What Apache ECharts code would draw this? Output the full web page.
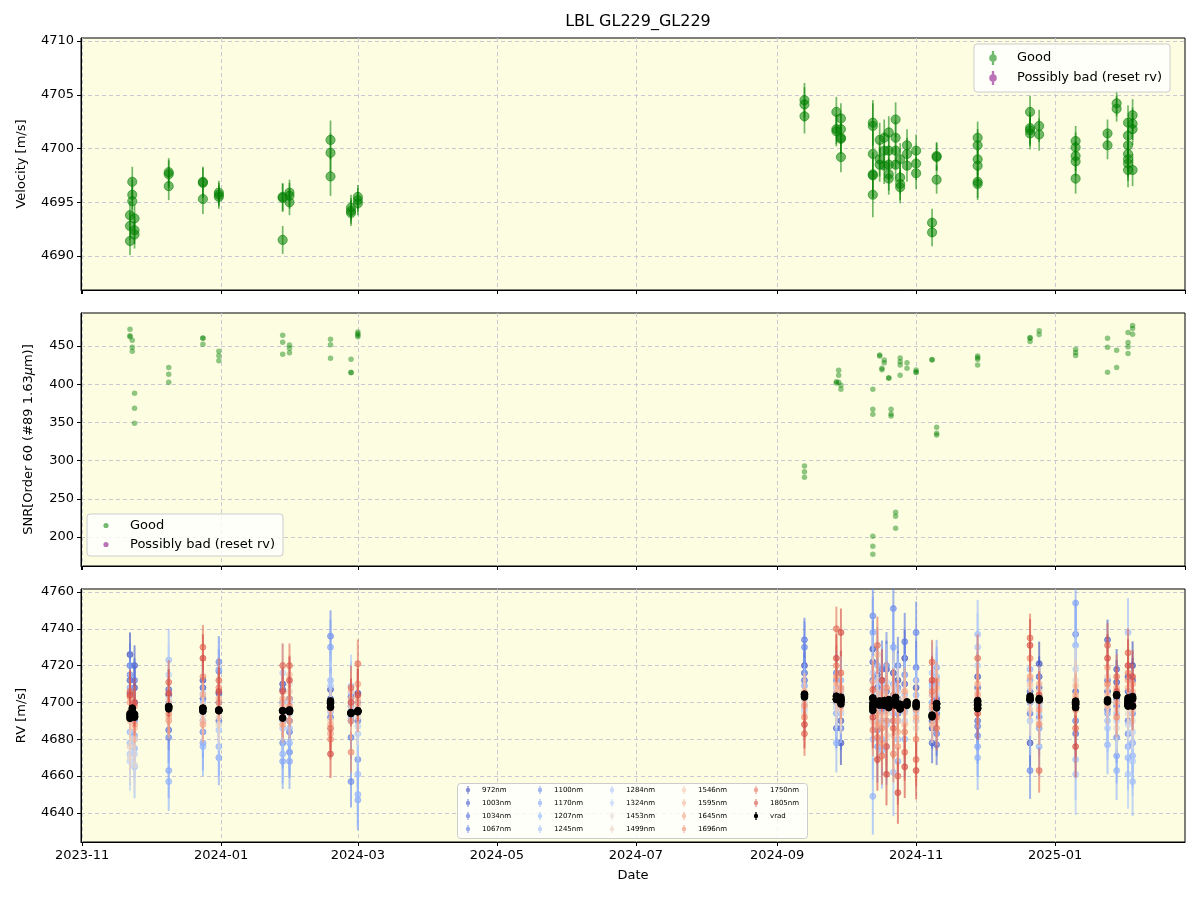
<!DOCTYPE html>
<html><head><meta charset="utf-8">
<script src="https://cdn.jsdelivr.net/npm/echarts@6/dist/echarts.min.js"></script>
<style>html,body{margin:0;padding:0;background:#fff}#c{width:1200px;height:900px}</style>
</head><body><div id="c"></div>
<script>
// ---------------- DATA ----------------
const titleText = 'LBL GL229_GL229';

// Panel 1: velocity per night (groups of exposures)
const velDates = ['2023-11-22','2023-11-23','2023-11-24','2023-12-09','2023-12-24','2023-12-31','2024-01-28','2024-01-31','2024-02-18','2024-02-27','2024-03-01',
  '2024-09-13','2024-09-27','2024-09-29','2024-10-13','2024-10-16','2024-10-18','2024-10-20','2024-10-23','2024-10-25','2024-10-28','2024-11-01','2024-11-08','2024-11-10','2024-11-28',
  '2024-12-21','2024-12-25','2025-01-10','2025-01-24','2025-01-28','2025-02-02','2025-02-04'];
const velValues = [
  [4693.8,4692.8,4691.4],[4696.9,4695.7,4695.1],[4693.5,4692.4,4692.0],[4697.8,4697.6,4696.5],[4696.9,4696.8,4695.3],[4695.9,4695.7,4695.5],
  [4695.4,4695.5,4691.5],[4695.9,4695.6,4695.0],[4700.8,4699.6,4697.4],[4694.5,4694.2,4694.0],[4695.5,4695.2,4694.9],
  [4704.5,4704.1,4703.0],[4703.4,4701.8,4701.6],[4702.8,4701.8,4701.0,4700.9,4699.2],[4702.4,4702.1,4699.5,4697.6,4697.5,4695.7],
  [4700.8,4699.0,4698.5],[4701.0,4699.8,4698.4],[4697.2,4697.6,4701.5,4699.8,4698.5],[4702.7,4701.0,4699.8,4698.5],[4699.0,4697.3,4696.7,4696.4],
  [4700.3,4699.5,4698.4],[4699.8,4698.6,4697.7],[4693.1,4692.2],[4699.3,4699.2,4697.1],[4701.0,4700.3,4699.0,4698.4,4696.9,4696.7],
  [4703.4,4701.7,4701.4,4701.9],[4702.1,4701.3],[4700.7,4700.1,4699.3,4698.8,4697.2],[4701.4,4700.3],[4704.2,4703.7],
  [4702.4,4701.2,4699.5,4698.6,4698.0,4700.3,4699.0],[4703.1,4701.8,4702.3,4698.0]];
const velErrors = [1.3,1.4,1.3,1.3,1.4,1.1,1.3,1.2,1.8,1.2,1.1,1.6,1.4,1.4,2.1,1.6,1.7,1.5,1.6,1.5,1.5,1.5,1.3,1.3,1.5,1.5,1.5,1.4,1.3,1.2,1.6,1.5];

// Panel 2: SNR
const snrDates = ['2023-11-22','2023-11-23','2023-11-24','2023-12-09','2023-12-24','2023-12-31','2024-01-28','2024-01-31','2024-02-18','2024-02-27','2024-03-01',
  '2024-09-13','2024-09-27','2024-09-28','2024-09-29','2024-10-13','2024-10-16','2024-10-17','2024-10-18','2024-10-20','2024-10-21','2024-10-23','2024-10-25',
  '2024-10-28','2024-11-01','2024-11-08','2024-11-10','2024-11-28','2024-12-21','2024-12-25','2025-01-10','2025-01-24','2025-01-28','2025-02-02','2025-02-04'];
const snrValues = [
  [471.8,463.5,462.0],[457.4,448.3,443.1],[388.1,368.4,348.8],[422.0,413.0,402.5],[460.0,460.5,452.2],[443.1,437.3,430.8],
  [464.0,454.8,439.1],[451.3,447.0,441.3],[458.8,451.7,433.9],[432.6,415.1,415.5],[468.3,466.0,462.2,464.0],
  [293.0,285.5,278.2],[403.3,401.7],[418.2,411.6,402.5],[398.6,393.3],[393.3,367.1,360.6,200.9,187.8,177.4],
  [438.2,437.0],[420.8,419.0],[431.7,428.0],[408.5,407.8],[367.1,361.0,358.5],[232.3,227.1,211.4],[429.5,425.0,411.6,434.3],
  [428.2,420.8],[418.6,416.0,415.2],[431.7,432.2],[343.6,335.7,333.5],[436.9,434.5,432.5,425.1],[460.0,456.0,461.0],
  [470.0,465.0],[445.7,441.5,437.6],[460.0,448.3,415.6],[444.3,422.0],[467.8,454.5,449.0,440.3],[473.0,477.0,465.5]];

// Panel 3: RV per wavelength
const wavelengths = [972,1003,1034,1067,1100,1170,1207,1245,1284,1324,1453,1499,1546,1595,1645,1696,1750,1805];
const rvDates = ['2023-11-22','2023-11-24','2023-12-09','2023-12-24','2023-12-31','2024-01-28','2024-01-31','2024-02-18','2024-02-27','2024-03-01',
  '2024-09-13','2024-09-27','2024-09-29','2024-10-13','2024-10-15','2024-10-17','2024-10-19','2024-10-22','2024-10-24','2024-10-27','2024-11-01',
  '2024-11-08','2024-11-10','2024-11-28','2024-12-21','2024-12-25','2025-01-10','2025-01-24','2025-01-28','2025-02-02','2025-02-04'];
const rvByDate = [
  [4726,4712,4705,4720,4715,4708,4684,4678,4672,4668,4670,4676,4690,4695,4700,4703,4706,4704],
  [4708,4720,4700,4712,4690,4682,4675,4665,4680,4672,4666,4680,4686,4692,4688,4698,4694,4700],
  [4704,4707,4685,4700,4681,4663,4657,4723,4698,4715,4702,4696,4700,4692,4690,4694,4711,4705],
  [4712,4708,4702,4695,4684,4678,4676,4690,4700,4705,4693,4698,4690,4704,4688,4714,4730,4724],
  [4705,4700,4690,4717,4722,4670,4676,4718,4685,4695,4688,4692,4697,4702,4700,4708,4712,4706],
  [4710,4707,4700,4695,4678,4668,4672,4690,4686,4716,4700,4694,4698,4702,4688,4692,4720,4706],
  [4702,4696,4690,4684,4673,4668,4678,4686,4694,4700,4710,4706,4715,4702,4690,4698,4720,4712],
  [4707,4702,4698,4692,4736,4730,4695,4712,4709,4700,4685,4690,4696,4688,4683,4680,4686,4672],
  [4703,4698,4690,4681,4657,4695,4692,4705,4709,4700,4694,4698,4706,4702,4690,4673,4708,4700],
  [4705,4700,4695,4690,4669,4647,4650,4661,4683,4687,4692,4698,4702,4700,4710,4696,4721,4704],
  [4720,4716,4712,4734,4730,4709,4705,4702,4699,4696,4694,4700,4704,4706,4698,4692,4683,4688],
  [4700,4705,4686,4716,4712,4694,4678,4708,4703,4697,4700,4702,4706,4710,4714,4720,4740,4724],
  [4678,4690,4698,4686,4704,4700,4712,4707,4702,4694,4700,4696,4706,4698,4708,4702,4716,4738],
  [4729,4722,4712,4695,4747,4738,4649,4680,4700,4716,4706,4690,4711,4702,4698,4685,4707,4692],
  [4715,4708,4690,4700,4685,4676,4720,4705,4712,4698,4690,4702,4726,4694,4688,4681,4731,4669],
  [4690,4712,4700,4718,4695,4680,4674,4710,4706,4700,4688,4692,4698,4705,4678,4686,4671,4712],
  [4718,4696,4706,4690,4720,4700,4676,4688,4697,4711,4703,4682,4694,4690,4702,4708,4676,4661],
  [4716,4704,4700,4690,4751,4730,4710,4662,4694,4700,4708,4682,4698,4704,4690,4672,4686,4700],
  [4712,4702,4694,4720,4708,4690,4668,4680,4700,4706,4696,4702,4690,4684,4676,4698,4660,4651],
  [4724,4710,4698,4733,4715,4695,4680,4704,4700,4690,4694,4698,4702,4688,4706,4684,4673,4665],
  [4708,4700,4696,4719,4738,4712,4704,4690,4698,4694,4686,4690,4700,4692,4696,4680,4669,4663],
  [4690,4686,4678,4700,4696,4704,4710,4708,4716,4700,4692,4696,4704,4688,4698,4706,4722,4712],
  [4702,4694,4677,4683,4700,4719,4714,4710,4704,4696,4706,4690,4698,4708,4712,4692,4686,4700],
  [4714,4708,4690,4687,4682,4676,4670,4737,4730,4720,4702,4706,4698,4710,4704,4700,4724,4694],
  [4678,4706,4700,4694,4663,4712,4718,4704,4690,4700,4708,4696,4710,4702,4714,4724,4735,4731],
  [4721,4714,4708,4700,4692,4686,4676,4702,4698,4694,4690,4700,4706,4710,4696,4688,4663,4704],
  [4700,4706,4683,4690,4737,4754,4731,4669,4661,4718,4712,4698,4709,4704,4702,4696,4686,4676],
  [4706,4734,4712,4696,4700,4694,4677,4690,4686,4702,4708,4714,4704,4698,4719,4710,4731,4724],
  [4711,4718,4702,4698,4681,4671,4663,4694,4700,4690,4686,4696,4704,4700,4708,4692,4714,4706],
  [4714,4706,4698,4690,4683,4676,4670,4738,4661,4688,4694,4700,4702,4708,4712,4716,4727,4720],
  [4720,4712,4704,4700,4694,4678,4671,4657,4668,4684,4690,4696,4702,4706,4710,4700,4698,4714]];
const wlErrors = [12,11,11,12,14,15,16,17,17,16,14,13,11,10,10,11,12,13];
const dateErrScale = [1,1,1,1,1,1,1,1,1,1.1, 1,1,1,1.3,1.3,1.3,1.3,1.4,1.3,1.3,1.2, 1,1,1.1,1.1,1,1.3,1,1,1.1,1.1];

// ---------------- STYLE ----------------
const FAM = 'DejaVu Sans';
const BG = '#fdfde2';
const GRIDC = '#c9c9d3';
const GREEN = 'rgba(0,128,0,0.55)';
const PURPLE = 'rgba(128,0,128,0.55)';
const X_MIN = Date.UTC(2023, 9, 31, 12);
const X_MAX = Date.UTC(2025, 1, 27, 0);
// legend icons whose bounding box spans the full icon width (tiny end dots keep layout predictable)
function ebIcon(w, h, r, cx, bar) {
  const cy = h / 2, lw = Math.max(0.6, h / 12);
  let p = 'path://M0,' + cy + 'h0.01v0.01h-0.01Z M' + (w - 0.01) + ',' + cy + 'h0.01v0.01h-0.01Z ';
  if (bar) p += 'M' + (cx - lw) + ',0H' + (cx + lw) + 'V' + h + 'H' + (cx - lw) + 'Z ';
  p += 'M' + cx + ',' + (cy - r) + 'A' + r + ',' + r + ' 0 1 1 ' + cx + ',' + (cy + r) + 'A' + r + ',' + r + ' 0 1 1 ' + cx + ',' + (cy - r) + 'Z';
  return p;
}

const cwAnchors = [[59,76,192],[98,130,234],[141,176,254],[184,208,249],[221,221,221],[244,196,173],[244,154,123],[222,96,77],[180,4,38]];
function coolwarm(t, a) {
  const s = t * 8, i = Math.min(7, Math.floor(s)), f = s - i;
  const c = cwAnchors[i].map((v, k) => Math.round(v + (cwAnchors[i + 1][k] - v) * f));
  return 'rgba(' + c.join(',') + ',' + a + ')';
}

function toT(d) { return Date.parse(d + 'T00:00:00Z'); }
function flat(dates, groups, errs) {
  const out = [];
  dates.forEach((d, i) => groups[i].forEach(v => out.push([toT(d), v, errs ? errs[i] : 0])));
  return out;
}

function errRender(color, r, lw) {
  return function (params, api) {
    const t = api.value(0), v = api.value(1), e = api.value(2);
    const c = api.coord([t, v]);
    const children = [];
    if (e > 0) {
      const top = api.coord([t, v + e])[1], bot = api.coord([t, v - e])[1];
      children.push({type: 'line', shape: {x1: c[0], y1: top, x2: c[0], y2: bot}, style: {stroke: color, lineWidth: lw}});
    }
    children.push({type: 'circle', shape: {cx: c[0], cy: c[1], r: r}, style: {fill: color, stroke: color, lineWidth: 1}});
    return {type: 'group', children: children};
  };
}

const grids = [
  {left: 81, top: 38, width: 1104, height: 252},
  {left: 81, top: 313, width: 1104, height: 253},
  {left: 81, top: 589, width: 1104, height: 253}
].map(g => Object.assign(g, {show: true, backgroundColor: BG, borderColor: '#000', borderWidth: 1}));

function xAx(i, labels) {
  return {
    type: 'time', gridIndex: i, min: X_MIN, max: X_MAX, splitNumber: 7,
    axisLine: {show: true, lineStyle: {color: '#000', width: 1}},
    axisTick: {show: true, length: 4, lineStyle: {color: '#000'}},
    axisLabel: {show: labels, formatter: '{yyyy}-{MM}', color: '#000', fontSize: 13, fontFamily: FAM, margin: 7,
      showMinLabel: false, showMaxLabel: false},
    splitLine: {show: true, showMinLine: false, showMaxLine: false, lineStyle: {color: GRIDC, type: [4, 3], width: 1}},
    name: labels ? 'Date' : '', nameLocation: 'middle', nameGap: 27,
    nameTextStyle: {color: '#000', fontSize: 13, fontFamily: FAM}
  };
}
function yAx(i, min, max, split, name, gap, rich) {
  return {
    type: 'value', gridIndex: i, min: min, max: max, splitNumber: split,
    axisLine: {show: true, lineStyle: {color: '#000', width: 1}},
    axisTick: {show: true, length: 4, lineStyle: {color: '#000'}},
    axisLabel: {color: '#000', fontSize: 13, fontFamily: FAM, margin: 7, showMinLabel: false, showMaxLabel: false,
      formatter: v => v.toFixed(0)},
    splitLine: {show: true, showMinLine: false, showMaxLine: false, lineStyle: {color: GRIDC, type: [4, 3], width: 1}},
    name: name, nameLocation: 'middle', nameRotate: 90, nameGap: gap,
    nameTextStyle: {color: '#000', fontSize: 13, fontFamily: FAM, rich: rich || {}}
  };
}

const series = [];
// Panel 1
series.push({name: 'Good', type: 'custom', xAxisIndex: 0, yAxisIndex: 0, clip: true, itemStyle: {color: GREEN},
  renderItem: errRender(GREEN, 4.6, 1.7), encode: {x: 0, y: 1}, data: flat(velDates, velValues, velErrors)});
series.push({name: 'Possibly bad (reset rv)', type: 'custom', xAxisIndex: 0, yAxisIndex: 0, clip: true, itemStyle: {color: PURPLE},
  renderItem: errRender(PURPLE, 4.6, 1.7), encode: {x: 0, y: 1}, data: []});
// Panel 2
series.push({name: 'Good', type: 'scatter', xAxisIndex: 1, yAxisIndex: 1, symbol: 'circle', symbolSize: 5.5,
  itemStyle: {color: GREEN}, data: flat(snrDates, snrValues, null).map(p => [p[0], p[1]])});
series.push({name: 'Possibly bad (reset rv)', type: 'scatter', xAxisIndex: 1, yAxisIndex: 1, symbolSize: 5.5,
  itemStyle: {color: PURPLE}, data: []});
// Panel 3
const wlNames = wavelengths.map(w => w + 'nm');
const wlColors = wavelengths.map(w => coolwarm(0.9 * (w - wavelengths[0]) / (wavelengths[wavelengths.length - 1] - wavelengths[0]), 0.62));
wavelengths.forEach((w, i) => {
  const data = rvDates.map((d, j) => [toT(d), rvByDate[j][i], wlErrors[i] * dateErrScale[j]]);
  series.push({name: wlNames[i], type: 'custom', xAxisIndex: 2, yAxisIndex: 2, clip: true, itemStyle: {color: wlColors[i]},
    renderItem: errRender(wlColors[i], 3.0, 2.0), encode: {x: 0, y: 1}, data: data});
});
series.push({name: 'vrad', type: 'custom', xAxisIndex: 2, yAxisIndex: 2, clip: true, itemStyle: {color: '#000'},
  renderItem: errRender('#000', 3.4, 1.4), encode: {x: 0, y: 1}, data: flat(velDates, velValues, velErrors)});

// Legends
const legBase = {orient: 'vertical', textStyle: {color: '#000', fontSize: 13, fontFamily: FAM},
  backgroundColor: 'rgba(255,255,255,0.8)', borderColor: '#cccccc', borderWidth: 1, borderRadius: 3};
const legends = [
  Object.assign({}, legBase, {left: 974, top: 44, padding: [7, 8, 7, 6], itemWidth: 32, itemHeight: 14, itemGap: 6,
    data: [{name: 'Good', icon: ebIcon(32, 14, 3.8, 13, true), itemStyle: {color: GREEN}},
           {name: 'Possibly bad (reset rv)', icon: ebIcon(32, 14, 3.8, 13, true), itemStyle: {color: PURPLE}}]}),
  Object.assign({}, legBase, {left: 87, top: 514, padding: [5, 8, 5, 6], itemWidth: 32, itemHeight: 14, itemGap: 6,
    data: [{name: 'Good', icon: ebIcon(32, 14, 2.6, 13, false), itemStyle: {color: GREEN}},
           {name: 'Possibly bad (reset rv)', icon: ebIcon(32, 14, 2.6, 13, false), itemStyle: {color: PURPLE}}]})
];
const allNames = wlNames.concat(['vrad']);
const allColors = wlColors.concat(['#000']);
for (let c = 0; c < 5; c++) {
  const names = allNames.slice(c * 4, c * 4 + 4);
  legends.push({orient: 'vertical', left: 459 + 72 * c, top: 786, padding: 0, itemWidth: 18, itemHeight: 8, itemGap: 5,
    textStyle: {color: '#000', fontSize: 7, fontFamily: FAM, lineHeight: 8},
    data: names.map(n => ({name: n, icon: ebIcon(18, 8, 2.2, 9, true), itemStyle: {color: allColors[allNames.indexOf(n)]}}))});
}

const option = {
  animation: false,
  useUTC: true,
  backgroundColor: '#fff',
  title: {text: titleText, left: 633, top: 9, textAlign: 'center',
    textStyle: {fontSize: 16, fontWeight: 'normal', color: '#000', fontFamily: FAM}},
  grid: grids,
  xAxis: [xAx(0, false), xAx(1, false), xAx(2, true)],
  yAxis: [
    yAx(0, 4686.84, 4710.28, 5, 'Velocity [m/s]', 53),
    yAx(1, 162, 493.2, 5, 'SNR[Order 60 (#89 1.63{mu|μ}m)]', 46, {mu: {fontStyle: 'italic', fontSize: 13, fontFamily: FAM, color: '#000'}}),
    yAx(2, 4624.2, 4761.6, 7, 'RV [m/s]', 53)
  ],
  legend: legends,
  graphic: [{type: 'rect', left: 457, top: 783, z: 3, shape: {width: 350, height: 55, r: 3},
    style: {fill: 'rgba(255,255,255,0.8)', stroke: '#cccccc', lineWidth: 1}}],
  series: series
};
const chart = echarts.init(document.getElementById('c'), null, {renderer: 'canvas'});
chart.setOption(option);
</script></body></html>
